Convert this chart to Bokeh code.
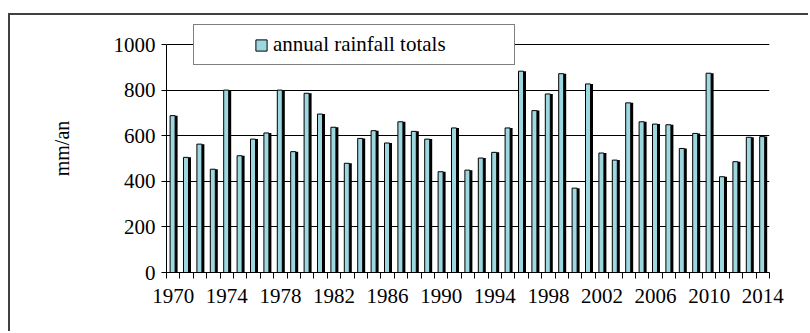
from bokeh.plotting import figure
from bokeh.models import (ColumnDataSource, FixedTicker, Legend, LegendItem,
                          Range1d)
from bokeh.transform import dodge
from bokeh.embed import file_html
from bokeh.resources import INLINE

# ---- data ----
years = list(range(1970, 2015))
rainfall = [688, 505, 563, 453, 800, 512, 585, 612, 800, 530,
            786, 695, 637, 479, 588, 622, 568, 661, 619, 585,
            442, 634, 449, 502, 527, 634, 883, 710, 783, 872,
            370, 827, 524, 493, 744, 661, 651, 648, 544, 610,
            874, 420, 486, 593, 596]
label_years = list(range(1970, 2015, 4))
y_ticks = [0, 200, 400, 600, 800, 1000]
series_name = "annual rainfall totals"
y_label = "mm/an"

CYAN = "#9dd8e0"
SERIF = "Liberation Serif"

# layout (pixels)
W, H = 800, 318
B_LEFT, B_RIGHT, B_TOP, B_BOTTOM = 156, 41, 9, 61
frame_h = H - B_TOP - B_BOTTOM
axis_h = 228            # pixel height of the 0..1000 axis
y_end = y_ticks[-1] * frame_h / axis_h

src = ColumnDataSource(dict(year=years, value=rainfall))

p = figure(width=W, height=H, output_backend="svg", toolbar_location=None,
           x_range=Range1d(years[0] - 0.5, years[-1] + 0.5),
           y_range=Range1d(0, y_end),
           min_border_left=B_LEFT, min_border_right=B_RIGHT,
           min_border_top=B_TOP, min_border_bottom=B_BOTTOM)
p.margin = (13, 0, 0, 8)
p.styles = {"border-top": "2px solid #404040", "border-left": "2px solid #404040"}
p.background_fill_color = "white"
p.border_fill_color = "white"
p.outline_line_color = None

# shadow (dark right side of each bar)
p.vbar(x=dodge("year", 0.216), top="value", width=0.224, bottom=0, source=src,
       fill_color="black", line_color=None)
# main bar
bars = p.vbar(x=dodge("year", -0.045), top="value", width=0.373, bottom=0,
              source=src, fill_color=CYAN, line_color="black", line_width=1)

# axes
xa = p.xaxis[0]
xa.ticker = FixedTicker(ticks=label_years,
                        minor_ticks=[y - 0.5 for y in years] + [years[-1] + 0.5])
xa.major_tick_line_color = None
xa.major_tick_out = 0
xa.major_tick_in = 0
xa.minor_tick_out = 6
xa.minor_tick_in = 0
xa.minor_tick_line_color = "black"
xa.axis_line_color = "black"
xa.major_label_text_font = SERIF
xa.major_label_text_font_size = "21px"
xa.major_label_text_color = "black"
xa.major_label_standoff = 10

ya = p.yaxis[0]
ya.ticker = FixedTicker(ticks=y_ticks, minor_ticks=[])
ya.bounds = (y_ticks[0], y_ticks[-1])
ya.major_tick_out = 5
ya.major_tick_in = 0
ya.major_tick_line_color = "black"
ya.axis_line_color = "black"
ya.major_label_text_font = SERIF
ya.major_label_text_font_size = "21px"
ya.major_label_text_color = "black"
ya.major_label_standoff = 6
ya.axis_label = y_label
ya.axis_label_text_font = SERIF
ya.axis_label_text_font_size = "20px"
ya.axis_label_text_font_style = "normal"
ya.axis_label_text_color = "black"
ya.axis_label_standoff = 38

p.xgrid.visible = False
p.ygrid.ticker = FixedTicker(ticks=y_ticks[1:])
p.ygrid.grid_line_color = "black"
p.ygrid.grid_line_width = 1

legend = Legend(items=[LegendItem(label=series_name, renderers=[bars])],
                location=(27, 207), orientation="vertical",
                padding=7, margin=0, spacing=0,
                title=" ", title_location="left", title_standoff=52,
                title_text_font_size="1px",
                glyph_width=14, glyph_height=14, label_standoff=5,
                label_width=234,
                label_text_font=SERIF, label_text_font_size="21px",
                label_text_color="black",
                border_line_color="black", border_line_width=1.5,
                background_fill_color="white", background_fill_alpha=1)
p.add_layout(legend, "center")

open("out.html", "w").write(file_html(p, INLINE))
